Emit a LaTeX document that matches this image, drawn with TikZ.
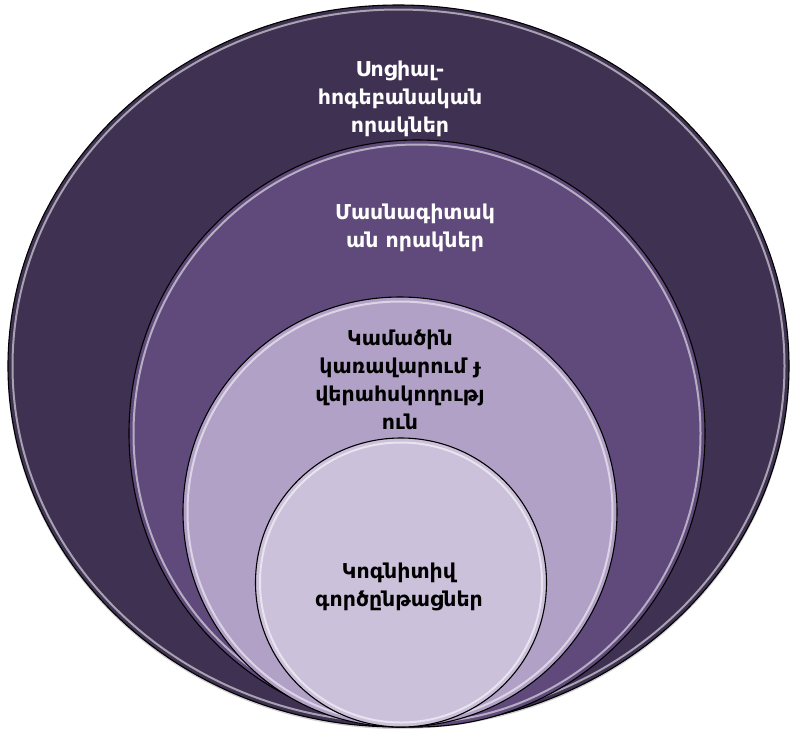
\documentclass[tikz,border=0pt]{standalone}
\usepackage{fontspec}
\setmainfont{DejaVu Sans}
\definecolor{ringA}{HTML}{3F3151}
\definecolor{ringB}{HTML}{604A7B}
\definecolor{ringC}{HTML}{B2A1C7}
\definecolor{ringD}{HTML}{CCC1DA}
\begin{document}
\begin{tikzpicture}[x=1pt,y=-1pt,
  ring/.style={draw=black, line width=1.1pt},
  rim/.style={draw=white, opacity=0.55, line width=2pt},
  lbl/.style={font=\bfseries\fontsize{20.5}{28}\selectfont, align=center, inner sep=0pt}]
\useasboundingbox (0,0) rectangle (795,729);
% soft shadow
\fill[black, opacity=0.18] (398.5,368) ellipse [x radius=391, y radius=361];
% outer
\fill[ringA, ring] (398.5,366) ellipse [x radius=390.5, y radius=361];
\draw[rim] (398.5,366) ellipse [x radius=386, y radius=356.5];
% second
\fill[ringB, ring] (417,433.5) ellipse [x radius=288, y radius=293.5];
\draw[rim] (417,433.5) ellipse [x radius=283.5, y radius=289];
% third
\fill[ringC, ring] (400,512) ellipse [x radius=217, y radius=215];
\draw[rim] (400,512) ellipse [x radius=212.5, y radius=210.5];
% inner
\fill[ringD, ring] (401,582.5) ellipse [x radius=145.5, y radius=144.5];
\draw[rim] (401,582.5) ellipse [x radius=141, y radius=140];
% labels
\node[lbl, text=white] (t1) at (400,99) {Սոցիալ-\\հոգեբանական\\որակներ};
\node[lbl, text=white] (t2) at (415,228) {Մասնագիտակ\\ան որակներ};
\node[lbl, text=black] (t3) at (400,380) {Կամածին\\կառավարում ɟ\\վերահսկողությ\\ուն};
\node[lbl, text=black] (t4) at (399,587) {Կոգնիտիվ\\գործընթացներ};
\end{tikzpicture}
\end{document}
